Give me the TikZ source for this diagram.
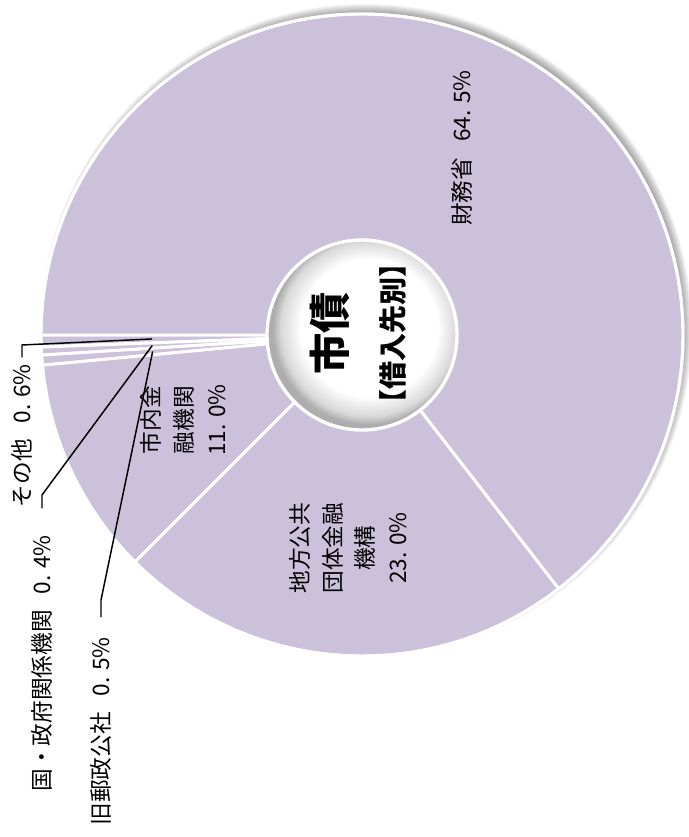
\documentclass[tikz,border=0pt]{standalone}
\usepackage{fontspec}
\setmainfont{Noto Sans CJK JP}
\definecolor{lavender}{RGB}{204,193,218}
\pgfdeclareradialshading{hubshade}{\pgfpoint{3bp}{3bp}}{color(0bp)=(white); color(18bp)=(white); color(23bp)=(black!15); color(25bp)=(black!32); color(50bp)=(black!32)}
\begin{document}
\begin{tikzpicture}[x=0.75pt, y=-0.75pt,
  every node/.style={inner sep=0pt, align=center, rotate=90, font=\fontsize{17}{24.5}\selectfont},
  slice/.style={fill=lavender, draw=white, line width=2.2pt},
  leader/.style={draw=black, line width=1.1pt}]
  \useasboundingbox (0,0) rectangle (688,837);
  \coordinate (o) at (362,335);
  \foreach \i in {1,...,9}
    \fill[black, opacity=0.045] ([shift={(4,-5)}]o) circle (317+\i);
  \foreach \a/\b in {180/177.84, 177.84/176.4, 176.4/174.6, 174.6/135, 135/52.2, 52.2/-180}
    \filldraw[slice] (o) -- ++(\a:321) arc[start angle=\a, end angle=\b, radius=321] -- cycle;
  \draw[white, line width=2.2pt] (o) circle (321);
  \shade[shading=hubshade] (o) circle (95);
  \draw[white, line width=2.5pt] (o) circle (95);
  \node (mof) at (462,148) {財務省\hspace{.7em}64. 5\%};
  \node (city) at (183,420) {市内金\\融機関\\11. 0\%};
  \node (jfm) at (348,548) {地方公共\\団体金融\\機構\\23. 0\%};
  \node (title) at (358,333) {{\fontsize{31}{34}\selectfont\bfseries 市債}\\[19pt]{\fontsize{21}{24}\selectfont\bfseries 【借入先別】}};
  \node[anchor=east] (other) at (22,364) {その他\hspace{.7em}0. 6\%};
  \node[anchor=east] (gov) at (42,535) {国・政府関係機関\hspace{.7em}0. 4\%};
  \node[anchor=east] (post) at (101,637) {旧郵政公社\hspace{.7em}0. 5\%};
  \path (o) ++(178.92:210) coordinate (p1);
  \path (o) ++(177.12:210) coordinate (p2);
  \path (o) ++(175.5:210) coordinate (p3);
  \coordinate (b1) at (22,345);
  \coordinate (b2) at (42,495);
  \coordinate (b3) at (101,600);
  \draw[leader, shorten >=5pt] (p1) -- (b1) -- (other.east);
  \draw[leader, shorten >=20pt] (p2) -- (b2) -- (gov.east);
  \draw[leader, shorten >=15pt] (p3) -- (b3) -- (post.east);
\end{tikzpicture}
\end{document}
